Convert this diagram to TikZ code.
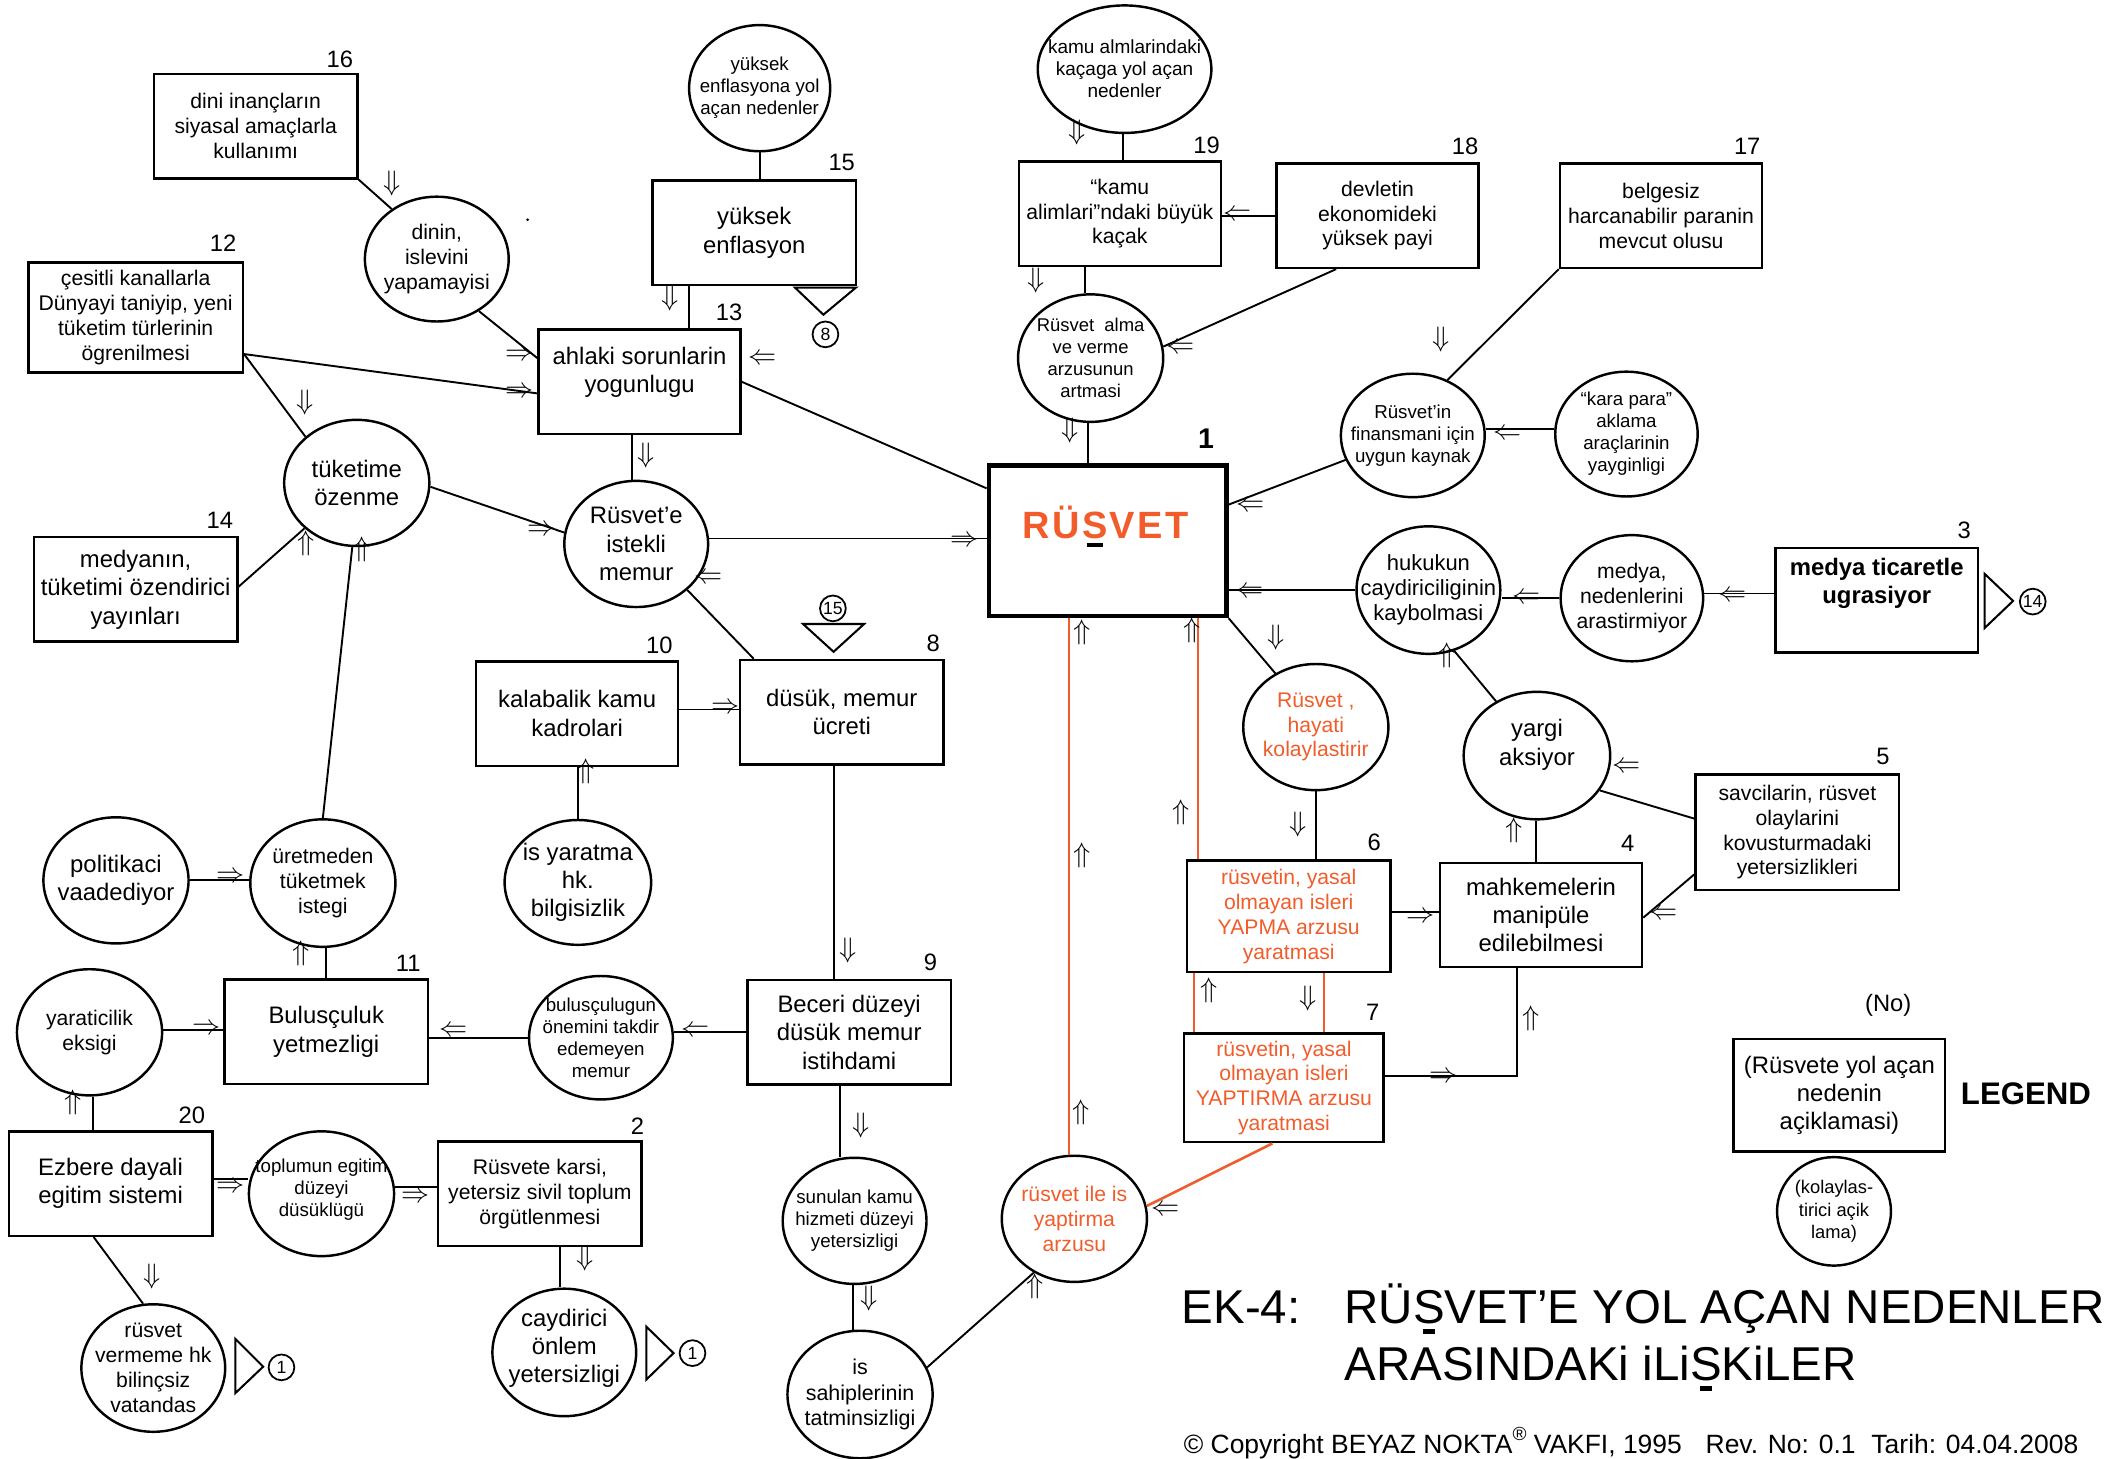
\documentclass[tikz,border=0pt]{standalone}
\usepackage{fontspec}
\setmainfont{Liberation Sans}
\usetikzlibrary{shapes.geometric}
\definecolor{org}{RGB}{241,92,42}
\newcommand\barS[1]{\ooalign{S\cr\hidewidth\textcolor{black}{\rule[-0.22em]{#1}{0.1em}}\hidewidth\cr}}
\newcommand\fsz[2]{\fontsize{#1}{#2}\selectfont}
\newcommand\ArD{$\Downarrow$}
\newcommand\ArU{$\Uparrow$}
\newcommand\ArL{$\Leftarrow$}
\newcommand\ArR{$\Rightarrow$}
\tikzset{
  box/.style={draw,line width=1.8pt,rectangle,align=center,inner sep=1pt},
  circ/.style={draw,line width=1.8pt,ellipse,inner sep=0pt},
  con/.style={line width=1.4pt},
  ocon/.style={line width=1.9pt,draw=org},
  ar/.style={inner sep=0pt,font=\fsz{20.5}{20.5}},
  num/.style={inner sep=0pt,font=\fsz{17.5}{18}},
  fT/.style={font=\fsz{15.6}{18.3}},
  fL/.style={font=\fsz{17.6}{21}},
  fS/.style={font=\fsz{13.8}{16.2}},
  tri/.style={line width=1.5pt,line join=miter},
  cnum/.style={draw,circle,line width=1.3pt,inner sep=0pt,minimum size=19pt,font=\fsz{13}{13}},
}
\begin{document}
\begin{tikzpicture}[x=1pt,y=-1pt]
\useasboundingbox (0,0) rectangle (1568,1075);
\fill[white] (0,0) rectangle (1568,1075);

% ---------- boxes ----------
\node[box,fT,minimum width=150pt,minimum height=77pt] (b16) at (188.5,93) {dini inançların\\siyasal amaçlarla\\kullanımı};
\node[box,fT,minimum width=158pt,minimum height=81pt] (b12) at (100,234) {çesitli kanallarla\\Dünyayi taniyip, yeni\\tüketim türlerinin\\ögrenilmesi};
\node[box,fL,minimum width=149pt,minimum height=77pt] (b13) at (471.5,281.5) {ahlaki sorunlarin\\yogunlugu\\[-3pt]\mbox{}};
\node[box,fL,minimum width=150pt,minimum height=77pt] (b15) at (556,171.5) {yüksek\\enflasyon};
\node[box,line width=3.4pt,minimum width=175pt,minimum height=111pt] (b1) at (816.5,398.5) {};
\node[anchor=base,inner sep=0pt,font=\fsz{28}{28}\bfseries,text=org] (rus) at (815,397) {R\kern1.8ptÜ\kern1.8pt\barS{0.43em}\kern1.8ptV\kern1.8ptE\kern1.8ptT};
\node[box,fT,minimum width=149pt,minimum height=77pt] (b19) at (825.5,157.5) {“kamu\\alimlari”ndaki büyük\\kaçak};
\node[box,fT,minimum width=149pt,minimum height=77pt] (b18) at (1015.5,159) {devletin\\ekonomideki\\yüksek payi};
\node[box,fT,minimum width=149pt,minimum height=77pt] (b17) at (1224.5,159) {belgesiz\\harcanabilir paranin\\mevcut olusu};
\node[box,fL,minimum width=150pt,minimum height=77pt] (b14) at (100,434.5) {medyanın,\\tüketimi özendirici\\yayınları};
\node[box,fL,minimum width=149pt,minimum height=77pt] (b10) at (425.5,526) {kalabalik kamu\\kadrolari};
\node[box,fL,minimum width=150pt,minimum height=77pt] (b8) at (620.5,525) {düsük, memur\\ücreti};
\node[box,fL,minimum width=150pt,minimum height=77pt] (b11) at (240.5,760.5) {Bulusçuluk\\yetmezligi};
\node[box,fL,minimum width=150pt,minimum height=77pt] (b9) at (626,761) {Beceri düzeyi\\düsük memur\\istihdami};
\node[box,fL,minimum width=150pt,minimum height=77pt] (b20) at (81.5,872.5) {Ezbere dayali\\egitim sistemi};
\node[box,fT,minimum width=150pt,minimum height=77pt] (b2) at (398,880) {Rüsvete karsi,\\yetersiz sivil toplum\\örgütlenmesi};
\node[box,fL,minimum width=149pt,minimum height=77pt,font=\fsz{17.6}{20.5}\bfseries] (b3) at (1383.5,442.5) {medya ticaretle\\ugrasiyor\\[8pt]\mbox{}};
\node[box,fT,text=org,minimum width=150pt,minimum height=82pt] (b6) at (950,675.5) {rüsvetin, yasal\\olmayan isleri\\YAPMA arzusu\\yaratmasi};
\node[box,fL,minimum width=149pt,minimum height=77pt] (b4) at (1136,674.5) {mahkemelerin\\manipüle\\edilebilmesi};
\node[box,fT,minimum width=150pt,minimum height=85pt] (b5) at (1325,613.5) {savcilarin, rüsvet\\olaylarini\\kovusturmadaki\\yetersizlikleri};
\node[box,fT,text=org,minimum width=147pt,minimum height=80pt] (b7) at (946.5,802) {rüsvetin, yasal\\olmayan isleri\\YAPTIRMA arzusu\\yaratmasi};
\node[box,fL,minimum width=156pt,minimum height=83pt] (leg) at (1356,807.5) {(Rüsvete yol açan\\nedenin\\açiklamasi)};

% ---------- circles ----------
\node[circ,minimum width=106pt,minimum height=92pt,label={[fT,align=center]center:dinin,\\islevini\\yapamayisi}] (dn) at (322,191) {};
\node[circ,minimum width=104pt,minimum height=93pt,label={[fS,align=center]center:yüksek\\enflasyona yol\\açan nedenler}] (c15) at (560,65) {};
\node[circ,minimum width=128pt,minimum height=94pt,label={[font=\fsz{14}{16.2},align=center]center:kamu almlarindaki\\kaçaga yol açan\\nedenler}] (kamu) at (829,51) {};
\node[circ,minimum width=107pt,minimum height=94pt,label={[font=\fsz{13.6}{16.3},align=center]center:Rüsvet\ \ alma\\ve verme\\arzusunun\\artmasi}] (alma) at (804,264) {};
\node[circ,minimum width=106pt,minimum height=91pt,label={[fS,align=center]center:Rüsvet'in\\finansmani için\\uygun kaynak}] (fin) at (1041.5,321) {};
\node[circ,minimum width=105pt,minimum height=92pt,label={[fS,align=center]center:“kara para”\\aklama\\araçlarinin\\yayginligi}] (kara) at (1199,320) {};
\node[circ,minimum width=106pt,minimum height=94pt,label={[font=\fsz{16.2}{18.5},align=center]center:hukukun\\caydiriciliginin\\kaybolmasi}] (huk) at (1053,435) {};
\node[circ,minimum width=105pt,minimum height=93pt,label={[fT,align=center]center:medya,\\nedenlerini\\arastirmiyor}] (med) at (1203,441) {};
\node[circ,minimum width=107pt,minimum height=93pt,label={[fL,align=center]center:tüketime\\özenme}] (tuk) at (263,356) {};
\node[circ,minimum width=106pt,minimum height=93pt,label={[fL,align=center]center:Rüsvet'e\\istekli\\memur}] (ist) at (469,401) {};
\node[circ,minimum width=108pt,minimum height=92pt,label={[font=\fsz{17.6}{20.5},align=center]center:is yaratma\\hk.\\bilgisizlik}] (isy) at (426,650.5) {};
\node[circ,minimum width=107pt,minimum height=93pt,label={[fL,align=center]center:politikaci\\vaadediyor}] (pol) at (85.5,649) {};
\node[circ,minimum width=107pt,minimum height=94pt,label={[fT,align=center]center:üretmeden\\tüketmek\\istegi}] (ure) at (238,651) {};
\node[circ,minimum width=107pt,minimum height=93pt,label={[fT,align=center]center:yaraticilik\\eksigi}] (yar) at (66,761) {};
\node[circ,minimum width=106pt,minimum height=91pt,label={[fS,align=center]center:bulusçulugun\\önemini takdir\\edemeyen\\memur}] (bul) at (443,765) {};
\node[circ,minimum width=107pt,minimum height=92pt,label={[fS,align=center,yshift=3pt]center:toplumun egitim\\düzeyi\\düsüklügü}] (top) at (237,880) {};
\node[circ,minimum width=106pt,minimum height=94pt,label={[fT,align=center]center:rüsvet\\vermeme hk\\bilinçsiz\\vatandas}] (rv) at (113,1008.5) {};
\node[circ,minimum width=106pt,minimum height=94pt,label={[font=\fsz{17.6}{20.5},align=center,yshift=3pt]center:caydirici\\önlem\\yetersizligi}] (cay) at (416,997) {};
\node[circ,minimum width=106pt,minimum height=93pt,label={[fS,align=center]center:sunulan kamu\\hizmeti düzeyi\\yetersizligi}] (sun) at (630,900) {};
\node[circ,minimum width=107pt,minimum height=94pt,label={[font=\fsz{15.8}{19},align=center]center:is\\sahiplerinin\\tatminsizligi}] (iss) at (634,1028) {};
\node[circ,minimum width=107pt,minimum height=93pt,label={[fT,org,align=center]center:rüsvet ile is\\yaptirma\\arzusu}] (rile) at (792,898.5) {};
\node[circ,minimum width=107pt,minimum height=93pt,label={[fT,org,align=center]center:Rüsvet ,\\hayati\\kolaylastirir}] (hay) at (970,536) {};
\node[circ,minimum width=108pt,minimum height=94pt,label={[fL,align=center,yshift=8pt]center:yargi\\aksiyor}] (yarg) at (1133,557) {};
\node[circ,minimum width=84pt,minimum height=80pt,label={[font=\fsz{13.5}{16.5},align=center]center:(kolaylas-\\tirici açik\\lama)}] (lc) at (1352,893) {};

% ---------- numbers ----------
\node[num] (n16) at (250.5,43.5) {16};
\node[num] (n12) at (164.5,179) {12};
\node[num] (n15) at (620.5,120) {15};
\node[num] (n13) at (537.5,230) {13};
\node[num] (n19) at (889.5,107) {19};
\node[num] (n18) at (1080,108) {18};
\node[num] (n17) at (1288,108) {17};
\node[inner sep=0pt,font=\fsz{21}{21}\bfseries] (n1) at (889,323.5) {1};
\node[num] (n14) at (162,383.5) {14};
\node[num] (n3) at (1448,391) {3};
\node[num] (n10) at (486,475.5) {10};
\node[num] (n8) at (688,474) {8};
\node[num] (n5) at (1388,558) {5};
\node[num] (n6) at (1013,621) {6};
\node[num] (n4) at (1200,622) {4};
\node[num] (n11) at (301,710) {11};
\node[num] (n9) at (686,709.5) {9};
\node[num] (n7) at (1012,746.5) {7};
\node[num] (n20) at (141.5,822) {20};
\node[num] (n2) at (470,830.5) {2};
\node[num] (no) at (1392,741) {(No)};
\node[inner sep=0pt,font=\fsz{23}{23}\bfseries] (lgd) at (1493.5,806.5) {LEGEND};

% ---------- reference triangles ----------
\draw[tri] (586,212) -- (631,212) -- (607,232) -- cycle;
\node[cnum] (r8) at (608.5,246.5) {8};
\draw[tri] (592,460) -- (637,460) -- (614.5,480.5) -- cycle;
\node[cnum] (r15) at (614,448.5) {15};
\draw[tri] (1463,423) -- (1484,443) -- (1463,463) -- cycle;
\node[cnum] (r14) at (1498.5,443.5) {14};
\draw[tri] (173.5,987) -- (194,1007.5) -- (173.5,1027) -- cycle;
\node[cnum] (r1a) at (207.5,1008) {1};
\draw[tri] (476.5,978) -- (496.5,997.5) -- (476.5,1017) -- cycle;
\node[cnum] (r1b) at (510.5,997.5) {1};
\fill (389,162) circle (1.1pt);

% ---------- connectors ----------
\draw[con] (b16.south east) -- (dn.132);
\draw[con] (dn.-51) -- ([yshift=17.5pt]b13.west);
\draw[con] ([yshift=-27pt]b12.east) -- ([yshift=-8.5pt]b13.west);
\draw[con] ([yshift=-27pt]b12.east) -- (tuk.138);
\draw[con] (c15.south) -- (c15.south |- b15.north);
\draw[con] ([xshift=-48pt]b15.south) -- ([xshift=-48pt]b15.south |- b13.north);
\draw[con] ([xshift=-5.5pt]b13.south) -- ([xshift=-5.5pt]b13.south |- ist.north);
\draw[con] (b13.east) -- ([yshift=38.5pt]b1.west);
\draw[con] (tuk.-3) -- (ist.171);
\draw[con] ([yshift=4pt]ist.east) -- ([yshift=4pt]ist.east -| b1.west);
\draw[con] (ist.-42) -- ([xshift=11pt]b8.north west);
\draw[con] ([yshift=2pt]b14.east) -- (tuk.221.5);
\draw[con] (ure.north) -- (tuk.-94);
\draw[con] ([yshift=3pt]b10.east) -- ([yshift=3pt]b10.east -| b8.west);
\draw[con] (isy.north) -- (isy.north |- b10.south);
\draw[con] ([xshift=-5.5pt]b8.south) -- ([xshift=-5.5pt]b8.south |- b9.north);
\draw[con] (pol.east) -- (pol.east -| ure.west);
\draw[con] (b11.north) -- (b11.north |- ure.south);
\draw[con] ([yshift=2pt]yar.east) -- ([yshift=2pt]yar.east -| b11.west);
\draw[con] (bul.west) -- (bul.west -| b11.east);
\draw[con] (b9.west) -- (b9.west -| bul.east);
\draw[con] ([xshift=-13pt]b20.north) -- ([xshift=-13pt]b20.north |- yar.south);
\draw[con] ([yshift=3.5pt]b20.east) -- ([yshift=3.5pt]b20.east -| top.west);
\draw[con] (top.5) -- (top.5 -| b2.west);
\draw[con] ([xshift=-12.5pt]b20.south) -- (rv.99);
\draw[con] ([xshift=15pt]b2.south) -- ([xshift=15pt]b2.south |- cay.north);
\draw[con] ([xshift=-7pt]b9.south) -- ([xshift=-7pt]b9.south |- sun.north);
\draw[con] ([xshift=-1pt]sun.south) -- ([xshift=-1pt]sun.south |- iss.north);
\draw[con] (iss.22) -- (rile.233);
\draw[ocon] ([xshift=-4pt]rile.north) -- ([xshift=-4pt]rile.north |- b1.south);
\draw[ocon] ([xshift=9pt]b6.north west) -- ([xshift=9pt]b6.north west |- b1.south);
\draw[ocon] ([xshift=-8.5pt]b7.south) -- (rile.10);
\draw[con] ([xshift=-2pt]alma.south) -- ([xshift=-2pt]alma.south |- b1.north);
\draw[con] ([xshift=-1pt]kamu.south) -- ([xshift=-1pt]kamu.south |- b19.north);
\draw[con] (b18.west) -- (b18.west -| b19.east);
\draw[con] ([xshift=-25.5pt]b19.south) -- ([xshift=-25.5pt]b19.south |- alma.north);
\draw[con] ([xshift=-30.5pt]b18.south) -- (alma.9);
\draw[con] (b17.south west) -- (fin.58);
\draw[con] ([yshift=4pt]kara.west) -- ([yshift=4pt]kara.west -| fin.east);
\draw[con] (fin.200) -- ([yshift=26.5pt]b1.east);
\draw[con] (huk.west) -- (huk.west -| b1.east);
\draw[con] (med.west) -- (med.west -| huk.east);
\draw[con] ([yshift=5pt]b3.west) -- ([yshift=5pt]b3.west -| med.east);
\draw[con] (b1.south east) -- (hay.127);
\draw[con] (hay.south) -- (hay.south |- b6.north);
\draw[con] (yarg.127) -- (huk.-67);
\draw[con] ([yshift=3.5pt]b6.east) -- ([yshift=3.5pt]b6.east -| b4.west);
\draw[con] ([xshift=-3.5pt]b4.north) -- ([xshift=-3.5pt]b4.north |- yarg.south);
\draw[con] ([yshift=10pt]b5.west) -- (yarg.-29);
\draw[con] ([yshift=-31pt]b5.west) -- ([yshift=-2pt]b4.east);
\draw[ocon] ([xshift=26pt]b6.south) -- ([xshift=26pt]b6.south |- b7.north);
\draw[ocon] ([xshift=6pt]b6.south west) -- ([xshift=6pt]b6.south west |- b7.north);
\draw[con] ([yshift=9pt]b7.east) -| ([xshift=-17.5pt]b4.south);

% ---------- direction arrows ----------
\node[ar] (a1) at (289,135) {\ArD};
\node[ar] (a2) at (383,262) {\ArR};
\node[ar] (a3) at (383,289.5) {\ArR};
\node[ar] (a4) at (225,297) {\ArD};
\node[ar] (a5) at (562.5,265) {\ArL};
\node[ar] (a6) at (494,220) {\ArD};
\node[ar] (a7) at (476,336) {\ArD};
\node[ar] (a8) at (399,391) {\ArR};
\node[ar] (a9) at (711,399) {\ArR};
\node[ar] (a10) at (522,426) {\ArL};
\node[ar] (a11) at (226,401) {\ArU};
\node[ar] (a12) at (267,405) {\ArU};
\node[ar] (a13) at (535,522) {\ArR};
\node[ar] (a14) at (432,569) {\ArU};
\node[ar] (a15) at (625,701) {\ArD};
\node[ar] (a16) at (170,647) {\ArR};
\node[ar] (a17) at (222,703) {\ArU};
\node[ar] (a18) at (152,758.5) {\ArR};
\node[ar] (a19) at (334,760.5) {\ArL};
\node[ar] (a20) at (513,760) {\ArL};
\node[ar] (a21) at (54,813) {\ArU};
\node[ar] (a22) at (170,875) {\ArR};
\node[ar] (a23) at (306,883) {\ArR};
\node[ar] (a24) at (112,941) {\ArD};
\node[ar] (a25) at (431,928) {\ArD};
\node[ar] (a26) at (635,830) {\ArD};
\node[ar] (a27) at (640.5,957.5) {\ArD};
\node[ar] (a28) at (763,948) {\ArU};
\node[ar] (a29) at (798,466) {\ArU};
\node[ar] (a30) at (798,631) {\ArU};
\node[ar] (a31) at (797,820) {\ArU};
\node[ar] (a32) at (879,465) {\ArU};
\node[ar] (a33) at (871,599) {\ArU};
\node[ar] (a34) at (859,892) {\ArL};
\node[ar] (a35) at (794,98) {\ArD};
\node[ar] (a36) at (912,159) {\ArL};
\node[ar] (a37) at (764,206.5) {\ArD};
\node[ar] (a38) at (870.5,256.5) {\ArL};
\node[ar] (a39) at (788.5,317) {\ArD};
\node[ar] (a40) at (1062,250.5) {\ArD};
\node[ar] (a41) at (1111,320) {\ArL};
\node[ar] (a42) at (922,373) {\ArL};
\node[ar] (a43) at (921.5,437) {\ArL};
\node[ar] (a44) at (1125,441) {\ArL};
\node[ar] (a45) at (1277.5,439.5) {\ArL};
\node[ar] (a46) at (941,470) {\ArD};
\node[ar] (a47) at (957,608) {\ArD};
\node[ar] (a48) at (1067,483) {\ArU};
\node[ar] (a49) at (1116,612) {\ArU};
\node[ar] (a50) at (1199,566) {\ArL};
\node[ar] (a51) at (1226,674) {\ArL};
\node[ar] (a52) at (1047,676.5) {\ArR};
\node[ar] (a53) at (891,730) {\ArU};
\node[ar] (a54) at (964,736) {\ArD};
\node[ar] (a55) at (1064,794.5) {\ArR};
\node[ar] (a56) at (1128.5,751) {\ArU};

% ---------- title & footer ----------
\node[anchor=base west,inner sep=0pt,font=\fsz{35}{41}] (t1) at (871,975.5) {EK-4:};
\node[anchor=base west,inner sep=0pt,font=\fsz{35}{41}] (t2) at (991,975.5) {RÜ\barS{0.26em}VET'E YOL AÇAN NEDENLER};
\node[anchor=base west,inner sep=0pt,font=\fsz{35}{41}] (t3) at (991,1017.5) {ARASINDAKi iLi\barS{0.26em}KiLER};
\node[anchor=base west,inner sep=0pt,font=\fsz{19.5}{19.5}] (cp) at (872.5,1071.5) {© Copyright BEYAZ NOKTA\raisebox{0.5em}{\fsz{14}{14}®} VAKFI, 1995\hspace{0.9em}Rev. No: 0.1\hspace{0.6em}Tarih: 04.04.2008};
\end{tikzpicture}
\end{document}
